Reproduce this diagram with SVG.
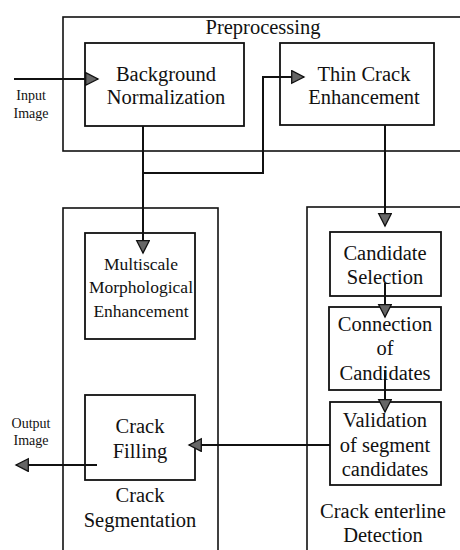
<svg xmlns="http://www.w3.org/2000/svg" width="460" height="550" viewBox="0 0 460 550">
  <style>
    .stage { fill: none; stroke: #111; stroke-width: 1.6; }
    .box { fill: #fff; stroke: #111; stroke-width: 1.8; }
    .wire { fill: none; stroke: #111; stroke-width: 2; }
    text { font-family: "Liberation Serif", "Tinos", "Times New Roman", "DejaVu Serif", serif; fill: #111; text-anchor: middle; }
    .big { font-size: 20.5px; }
    .mid { font-size: 17.5px; }
    .small { font-size: 14px; }
  </style>
  <defs>
    <marker id="head" markerUnits="userSpaceOnUse" markerWidth="15" markerHeight="15" refX="13" refY="7" orient="auto">
      <path d="M0.7,0.7 L13,7 L0.7,13.3 Z" fill="#666" stroke="#111" stroke-width="1.3"/>
    </marker>
  </defs>
  <rect width="460" height="550" fill="#fff"/>

  <!-- stage frames -->
  <g id="preprocessing">
    <rect class="stage" x="63" y="17" width="420" height="134"/>
    <text class="big" x="263" y="34">Preprocessing</text>
  </g>
  <g id="crack-segmentation">
    <rect class="stage" x="63" y="208" width="155" height="370"/>
    <text class="big" x="140" y="502">Crack</text>
    <text class="big" x="140" y="527">Segmentation</text>
  </g>
  <g id="centerline-detection">
    <rect class="stage" x="307" y="207" width="200" height="370"/>
    <text class="big" x="383" y="518">Crack enterline</text>
    <text class="big" x="383" y="542">Detection</text>
  </g>

  <!-- processing blocks -->
  <g id="background-normalization">
    <rect class="box" x="85" y="43" width="159" height="83"/>
    <text class="big" x="166" y="81">Background</text>
    <text class="big" x="166" y="104">Normalization</text>
  </g>
  <g id="thin-crack-enhancement">
    <rect class="box" x="280" y="43" width="154" height="82"/>
    <text class="big" x="364" y="81">Thin Crack</text>
    <text class="big" x="364" y="104">Enhancement</text>
  </g>
  <g id="multiscale-enhancement">
    <rect class="box" x="85" y="233" width="110" height="106"/>
    <text class="mid" x="141" y="270">Multiscale</text>
    <text class="mid" x="141" y="293">Morphological</text>
    <text class="mid" x="141" y="317">Enhancement</text>
  </g>
  <g id="candidate-selection">
    <rect class="box" x="330" y="232" width="111" height="64"/>
    <text class="big" x="385" y="260">Candidate</text>
    <text class="big" x="385" y="284">Selection</text>
  </g>
  <g id="connection-of-candidates">
    <rect class="box" x="329" y="307" width="112" height="83"/>
    <text class="big" x="385" y="331">Connection</text>
    <text class="big" x="385" y="355">of</text>
    <text class="big" x="385" y="380">Candidates</text>
  </g>
  <g id="segment-validation">
    <rect class="box" x="330" y="402" width="111" height="83"/>
    <text class="big" x="385" y="427">Validation</text>
    <text class="big" x="385" y="452">of segment</text>
    <text class="big" x="385" y="476">candidates</text>
  </g>
  <g id="crack-filling">
    <rect class="box" x="85" y="395" width="110" height="85"/>
    <text class="big" x="140" y="433">Crack</text>
    <text class="big" x="140" y="458">Filling</text>
  </g>

  <!-- inputs and outputs -->
  <g id="input-image">
    <text class="small" x="31" y="100">Input</text>
    <text class="small" x="31" y="118">Image</text>
  </g>
  <g id="output-image">
    <text class="small" x="31" y="428">Output</text>
    <text class="small" x="31" y="445">Image</text>
  </g>

  <!-- connectors -->
  <g id="connectors">
    <path class="wire" d="M14,79 H98" marker-end="url(#head)"/>
    <path class="wire" d="M143,126 V173 H263 V77 H304" marker-end="url(#head)"/>
    <path class="wire" d="M143,173 V253" marker-end="url(#head)"/>
    <path class="wire" d="M385,125 V226" marker-end="url(#head)"/>
    <path class="wire" d="M385,283 V317" marker-end="url(#head)"/>
    <path class="wire" d="M385,370 V412" marker-end="url(#head)"/>
    <path class="wire" d="M330,445 H189" marker-end="url(#head)"/>
    <path class="wire" d="M97,465 H16" marker-end="url(#head)"/>
  </g>
</svg>
